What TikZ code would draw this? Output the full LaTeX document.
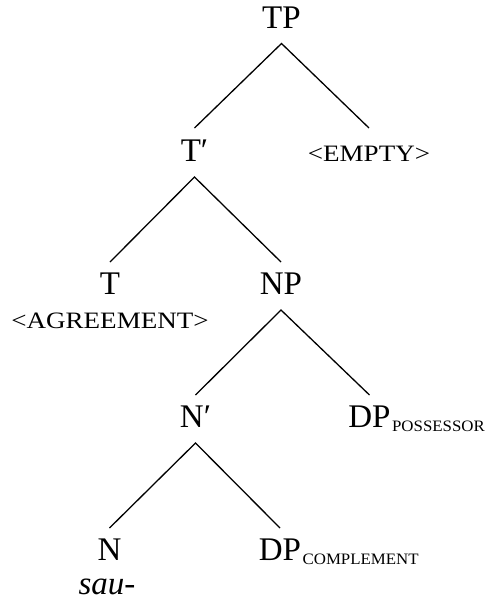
\documentclass[tikz,border=0pt]{standalone}
\usepackage{fontspec}
\setmainfont{Liberation Serif}
\newfontfamily\scfont[FakeStretch=1.15]{Liberation Serif}
\newfontfamily\subfont[FakeStretch=1.06]{Liberation Serif}
\newcommand{\capsbig}[1]{{\scfont\fontsize{23.5}{28}\selectfont #1}}
\newcommand{\capssub}[1]{\rlap{\kern1.5pt\raisebox{-4pt}{\subfont\fontsize{15.9}{19}\selectfont #1}}}
\tikzset{
  lab/.style={anchor=base, inner sep=0pt, outer sep=0pt, font=\fontsize{33}{40}\selectfont},
  br/.style={line width=1.3pt, black}
}
\begin{document}
\begin{tikzpicture}[x=1pt,y=-1pt]
\useasboundingbox (0,0) rectangle (486,600);
\node[lab] (TP)  at (281.5,28)   {TP};
\node[lab] (Tb)  at (194.5,161.5) {T′};
\node[lab] (emp) at (369,161)    {\capsbig{<EMPTY>}};
\node[lab] (T)   at (110,294.5)  {T};
\node[lab] (agr) at (110,328)    {\capsbig{<AGREEMENT>}};
\node[lab] (NP)  at (281,294.5)  {NP};
\node[lab] (Nb)  at (195.5,427)  {N′};
\node[lab] (dpp) at (369.5,427)  {DP\capssub{POSSESSOR}};
\node[lab] (N)   at (109.5,560)  {N};
\node[lab] (sau) at (107,594)    {\itshape sau-};
\node[lab] (dpc) at (280,560)    {DP\capssub{COMPLEMENT}};

\draw[br] ([yshift=33.5pt]Tb.base) -- ([yshift=-15.5pt]TP.base) -- ([yshift=33pt]emp.base);
\draw[br] ([yshift=32.5pt]T.base) -- ([yshift=-15.5pt]Tb.base) -- ([yshift=32.5pt]NP.base);
\draw[br] ([yshift=32pt]Nb.base) -- ([yshift=-15.5pt]NP.base) -- ([yshift=32pt]dpp.base);
\draw[br] ([yshift=32pt]N.base) -- ([yshift=-16pt]Nb.base) -- ([yshift=32pt]dpc.base);
\end{tikzpicture}
\end{document}
